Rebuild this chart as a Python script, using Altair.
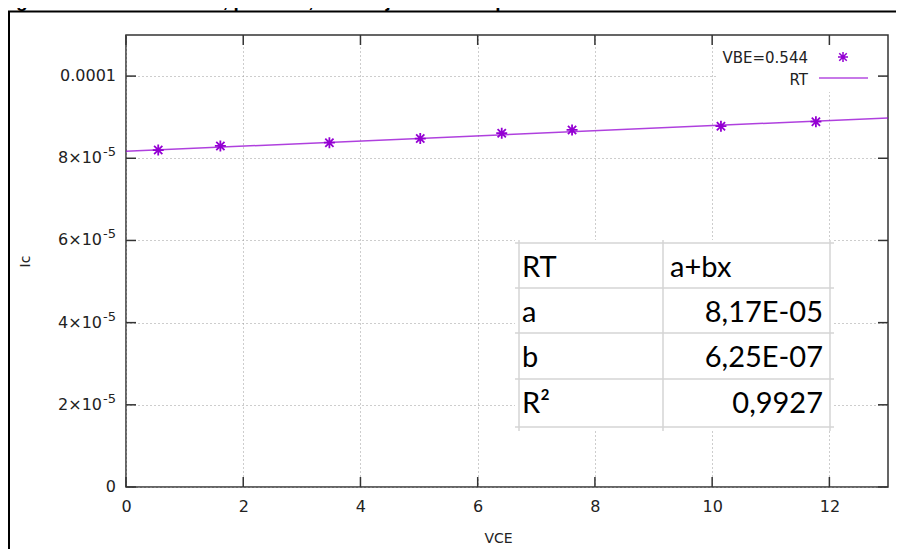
import altair as alt
import pandas as pd

# ---------------- data ----------------
vce = [0.55, 1.61, 3.47, 5.02, 6.41, 7.61, 10.15, 11.77]
ic = [8.20e-5, 8.30e-5, 8.38e-5, 8.48e-5, 8.61e-5, 8.69e-5, 8.78e-5, 8.89e-5]
rt_x = [0, 13]
rt_y = [8.17e-5, 8.9825e-5]
x_ticks = [0, 2, 4, 6, 8, 10, 12]
y_ticks = [0, 2e-5, 4e-5, 6e-5, 8e-5, 1e-4]
y_label_base = ["0", "2×10", "4×10", "6×10", "8×10", "0.0001"]
y_label_sup = ["", "-5", "-5", "-5", "-5", ""]
legend_labels = ["VBE=0.544", "RT"]
table_rows = [["RT", "a+bx"], ["a", "8,17E-05"], ["b", "6,25E-07"], ["R²", "0,9927"]]
title_text = "Figura 20 – Gráfico de IC, por VCE, e reta ajustada aos pontos."
x_title = "VCE"
y_title = "Ic"

# ---------------- style / layout ----------------
W, H = 762, 452
PURPLE = "#9400d3"
AX = "#333333"
TXT = "#222222"
FONT = "DejaVu Sans"
TFONT = "Lato"
ASTER = "M-1,0L1,0M0,-1L0,1M-0.75,-0.75L0.75,0.75M-0.75,0.75L0.75,-0.75"

xs = alt.Scale(domain=[0, 13], nice=False, zero=False)
ys = alt.Scale(domain=[0, 1.1e-4], nice=False, zero=False)

pts = pd.DataFrame({"VCE": vce, "Ic": ic})
fit = pd.DataFrame({"VCE": rt_x, "Ic": rt_y})
one = pd.DataFrame({"k": [0]})

x_axis = alt.Axis(values=x_ticks, grid=True, ticks=False, domain=False,
                  labelFont=FONT, labelFontSize=16, labelColor=TXT, labelPadding=11,
                  labelFlush=False, labelOverlap=False,
                  title=x_title, titleFont=FONT, titleFontSize=14, titleFontWeight="normal",
                  titleColor=TXT, titleX=372, titleY=51, titleAlign="center",
                  titleBaseline="middle",
                  gridDash=[1, 3], gridColor="#9a9a9a", gridWidth=1, zindex=0)
y_axis = alt.Axis(values=y_ticks, grid=True, ticks=False, domain=False, labels=False,
                  title=y_title, titleFont=FONT, titleFontSize=14, titleFontWeight="normal",
                  titleColor=TXT, titleX=-101, titleY=226, titleAngle=270,
                  titleAlign="center", titleBaseline="middle",
                  gridDash=[1, 3], gridColor="#9a9a9a", gridWidth=1, zindex=0)

X = lambda: alt.X("VCE:Q", scale=xs, axis=x_axis)
Y = lambda: alt.Y("Ic:Q", scale=ys, axis=y_axis)

points = alt.Chart(pts).mark_point(shape=ASTER, filled=False, size=121, strokeWidth=1.8,
                                   color=PURPLE, opacity=1).encode(x=X(), y=Y())
line = alt.Chart(fit).mark_line(color=PURPLE, strokeWidth=1.5, opacity=0.75).encode(x=X(), y=Y())

layers = [line, points]

# y tick labels with real superscripts
lab = pd.DataFrame({"Ic": y_ticks, "base": y_label_base, "sup": y_label_sup})
plain = lab[lab["sup"] == ""]
powr = lab[lab["sup"] != ""]
layers.append(alt.Chart(plain).mark_text(align="right", baseline="middle", font=FONT,
                                         fontSize=16, color=TXT).encode(
    y=Y(), x=alt.value(-10), text="base:N"))
layers.append(alt.Chart(powr).mark_text(align="right", baseline="middle", font=FONT,
                                        fontSize=16, color=TXT).encode(
    y=Y(), x=alt.value(-24), text="base:N"))
layers.append(alt.Chart(powr).mark_text(align="right", baseline="middle", font=FONT,
                                        fontSize=13, color=TXT, dy=-6).encode(
    y=Y(), x=alt.value(-10), text="sup:N"))

# inward ticks on all four sides
ydf = pd.DataFrame({"Ic": y_ticks})
xdf = pd.DataFrame({"VCE": x_ticks})
for a, b in [(0, 10), (W - 10, W)]:
    layers.append(alt.Chart(ydf).mark_rule(color=AX, strokeWidth=1.5).encode(
        y=Y(), x=alt.value(a), x2=alt.value(b)))
for a, b in [(H - 10, H), (0, 10)]:
    layers.append(alt.Chart(xdf).mark_rule(color=AX, strokeWidth=1.5).encode(
        x=X(), y=alt.value(a), y2=alt.value(b)))

# key (opaque box, top right)
layers.append(alt.Chart(one).mark_rect(color="white").encode(
    x=alt.value(592), x2=alt.value(750), y=alt.value(11), y2=alt.value(57)))
layers.append(alt.Chart(one).mark_text(text=legend_labels[0], align="right", baseline="alphabetic",
                                       font=FONT, fontSize=15, color=TXT).encode(
    x=alt.value(682), y=alt.value(28)))
layers.append(alt.Chart(one).mark_text(text=legend_labels[1], align="right", baseline="alphabetic",
                                       font=FONT, fontSize=15, color=TXT).encode(
    x=alt.value(682), y=alt.value(50)))
layers.append(alt.Chart(one).mark_point(shape=ASTER, filled=False, size=100, strokeWidth=1.5,
                                        color=PURPLE, opacity=1).encode(
    x=alt.value(717), y=alt.value(22)))
layers.append(alt.Chart(one).mark_rule(color=PURPLE, strokeWidth=1.6, opacity=0.7).encode(
    x=alt.value(693), x2=alt.value(742), y=alt.value(43)))

# inset table
TX0, TX1 = 389, 708
TY0, TY1 = 205, 396
row_lines = [208, 253, 298, 344, 392]
col_lines = [393, 537, 704]
layers.append(alt.Chart(one).mark_rect(color="white").encode(
    x=alt.value(TX0), x2=alt.value(TX1), y=alt.value(TY0), y2=alt.value(TY1)))
for yy in row_lines:
    layers.append(alt.Chart(one).mark_rule(color="#d4d4d4", strokeWidth=1.5).encode(
        x=alt.value(TX0), x2=alt.value(TX1), y=alt.value(yy)))
for xx in col_lines:
    layers.append(alt.Chart(one).mark_rule(color="#d4d4d4", strokeWidth=1.5).encode(
        y=alt.value(TY0), y2=alt.value(TY1), x=alt.value(xx)))
for i, (c1, c2) in enumerate(table_rows):
    base_y = row_lines[i] + 34
    layers.append(alt.Chart(one).mark_text(text=c1, align="left", baseline="alphabetic",
                                           font=TFONT, fontSize=29, color="#000").encode(
        x=alt.value(396), y=alt.value(base_y)))
    if i == 0:
        layers.append(alt.Chart(one).mark_text(text=c2, align="left", baseline="alphabetic",
                                               font=TFONT, fontSize=29, color="#000").encode(
            x=alt.value(544), y=alt.value(base_y)))
    else:
        layers.append(alt.Chart(one).mark_text(text=c2, align="right", baseline="alphabetic",
                                               font=TFONT, fontSize=29, color="#000").encode(
            x=alt.value(697), y=alt.value(base_y)))

# outer frame of the figure and clipped caption
layers.append(alt.Chart(one).mark_rule(color="#000", strokeWidth=2).encode(
    x=alt.value(-117), y=alt.value(-24), y2=alt.value(700)))
layers.append(alt.Chart(one).mark_rule(color="#000", strokeWidth=2).encode(
    y=alt.value(-23.5), x=alt.value(-118), x2=alt.value(900)))
layers.append(alt.Chart(one).mark_text(text=title_text, align="left", baseline="alphabetic",
                                       font="Liberation Sans", fontWeight="bold", fontSize=19,
                                       color="#000").encode(
    x=alt.value(-127), y=alt.value(-28)))

chart = alt.layer(*layers).properties(
    width=W, height=H,
    autosize=alt.AutoSizeParams(type="none"),
    padding={"left": 118, "top": 27, "right": 8, "bottom": 62},
).configure_view(stroke=AX, strokeWidth=1.5)

chart.save("out.html", embed_options={"renderer": "svg", "actions": False})
